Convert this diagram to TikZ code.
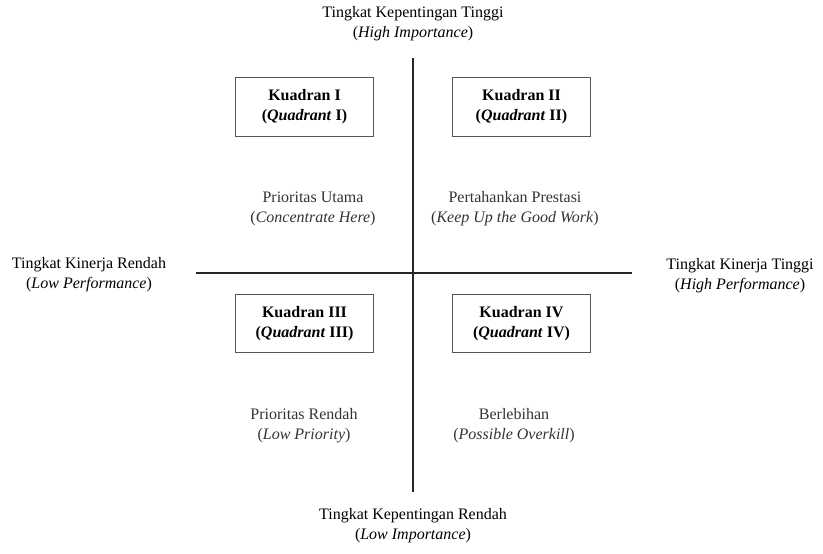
\documentclass[tikz,border=0pt]{standalone}
\usepackage{fontspec}
\setmainfont{Liberation Serif}[BoldItalicFont={Liberation Serif Bold Italic}]
\usepackage{tikz}
\usetikzlibrary{positioning}
\definecolor{ipagray}{HTML}{333333}
\definecolor{ipaborder}{HTML}{555555}
\tikzset{
  quadbox/.style={
    draw=ipaborder, fill=white, line width=0.9pt,
    minimum width=104pt, minimum height=44pt,
    align=center, font=\fontsize{12}{15}\selectfont\bfseries, inner sep=2pt
  },
  quadtext/.style={
    align=center, font=\fontsize{12}{15}\selectfont, text=ipagray, inner sep=1pt
  },
  axislabel/.style={
    align=center, font=\fontsize{12}{15}\selectfont, text=black, inner sep=1pt
  },
  axisline/.style={draw=black!85, line width=0.8pt}
}

\begin{document}
\begin{tikzpicture}[x=0.75pt, y=-0.75pt]
  \useasboundingbox (0,0) rectangle (823,553);

  \coordinate (top)    at (413,58);
  \coordinate (bottom) at (413,492);
  \coordinate (left)   at (196,273);
  \coordinate (right)  at (632,273);
  \draw[axisline] (top) -- (bottom);
  \draw[axisline] (left) -- (right);

  \node[axislabel] (imphigh) at (413,24) {Tingkat Kepentingan Tinggi\\(\textit{High Importance})};
  \node[axislabel] (implow)  at (413,526) {Tingkat Kepentingan Rendah\\(\textit{Low Importance})};
  \node[axislabel] (perflow)  at (89,275) {Tingkat Kinerja Rendah\\(\textit{Low Performance})};
  \node[axislabel] (perfhigh) at (740,276) {Tingkat Kinerja Tinggi\\(\textit{High Performance})};

  \node[quadbox] (quad1) at (304.5,107) {Kuadran I\\(\textit{Quadrant} I)};
  \node[quadbox] (quad2) at (521.5,107) {Kuadran II\\(\textit{Quadrant} II)};
  \node[quadbox] (quad3) at (304.5,323.5) {Kuadran III\\(\textit{Quadrant} III)};
  \node[quadbox] (quad4) at (521.5,323.5) {Kuadran IV\\(\textit{Quadrant} IV)};

  \node[quadtext] (concentrate) at (313,209) {Prioritas Utama\\(\textit{Concentrate Here})};
  \node[quadtext] (keepup)      at (515,209) {Pertahankan Prestasi\\(\textit{Keep Up the Good Work})};
  \node[quadtext] (lowprio)     at (304,426) {Prioritas Rendah\\(\textit{Low Priority})};
  \node[quadtext] (overkill)    at (514,426) {Berlebihan\\(\textit{Possible Overkill})};
\end{tikzpicture}
\end{document}
